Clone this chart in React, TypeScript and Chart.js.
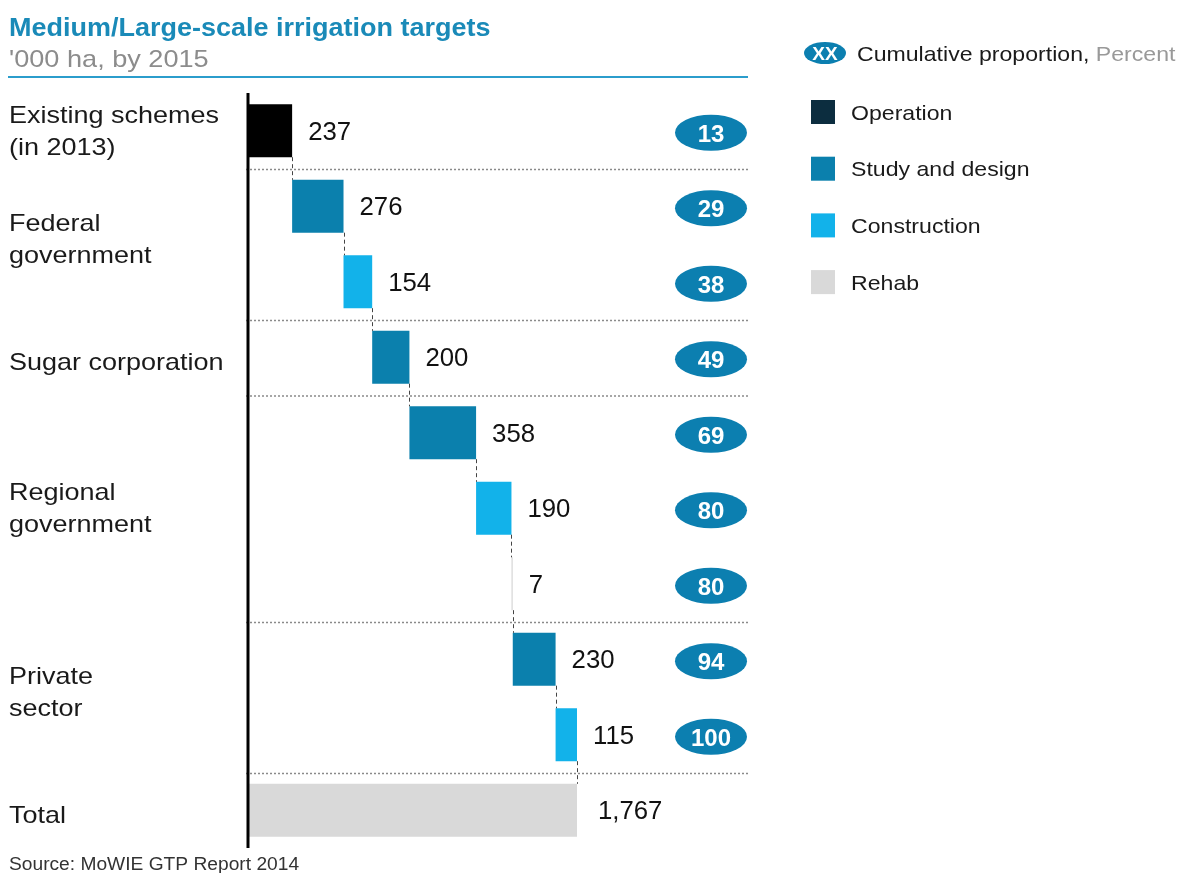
import React, { useEffect, useRef } from "react";
import { Chart, registerables } from "chart.js";

Chart.register(...registerables);

const title = "Medium/Large-scale irrigation targets";
const subtitle = "'000 ha, by 2015";
const source = "Source: MoWIE GTP Report 2014";

const rowIds = ["r0", "r1", "r2", "r3", "r4", "r5", "r6", "r7", "r8", "total"];
const values = [237, 276, 154, 200, 358, 190, 7, 230, 115, 1767];
const valueLabels = ["237", "276", "154", "200", "358", "190", "7", "230", "115", "1,767"];
const phases = [
  "Operation",
  "Study and design",
  "Construction",
  "Study and design",
  "Study and design",
  "Construction",
  "Rehab",
  "Study and design",
  "Construction",
  "Total",
];
const cumulativePct = [13, 29, 38, 49, 69, 80, 80, 94, 100];

const groupLabels = [
  ["Existing schemes", "(in 2013)"],
  ["Federal", "government"],
  ["Sugar corporation"],
  ["Regional", "government"],
  ["Private", "sector"],
  ["Total"],
];
const groupRows = [[0], [1, 2], [3], [4, 5, 6], [7, 8], [9]];
const separatorsAfterRow = [0, 2, 3, 6, 8];

const legendItems = ["Operation", "Study and design", "Construction", "Rehab"];
const phaseColors: Record<string, string> = {
  Operation: "#000000",
  "Study and design": "#0b80ad",
  Construction: "#12b2ea",
  Rehab: "#d9d9d9",
  Total: "#d9d9d9",
};
const legendColors: Record<string, string> = {
  Operation: "#0c2d3f",
  "Study and design": "#0b80ad",
  Construction: "#12b2ea",
  Rehab: "#d9d9d9",
};

const FONT = "'Liberation Sans', Arial, sans-serif";
const X_MAX = 2000;

function txt(
  ctx: CanvasRenderingContext2D,
  s: string,
  x: number,
  y: number,
  font: string,
  color: string,
  sx = 1,
  align: CanvasTextAlign = "left",
  baseline: CanvasTextBaseline = "alphabetic"
) {
  ctx.save();
  ctx.font = font;
  ctx.fillStyle = color;
  ctx.textAlign = align;
  ctx.textBaseline = baseline;
  ctx.translate(x, y);
  ctx.scale(sx, 1);
  ctx.fillText(s, 0, 0);
  ctx.restore();
}

export default function App() {
  const ref = useRef<HTMLCanvasElement | null>(null);

  useEffect(() => {
    if (!ref.current) return;
    let run = 0;
    const ranges = values.map((v, i) => {
      if (phases[i] === "Total") return [0, v];
      const r = [run, run + v];
      run += v;
      return r;
    });

    const overlay = {
      id: "overlay",
      beforeDatasetsDraw(chart: any) {
        const ctx = chart.ctx;
        const ca = chart.chartArea;
        const y = chart.scales.y;
        ctx.save();
        ctx.strokeStyle = "#8a8a8a";
        ctx.lineWidth = 1.5;
        ctx.setLineDash([2, 2]);
        separatorsAfterRow.forEach((r) => {
          const yy = (y.getPixelForValue(r) + y.getPixelForValue(r + 1)) / 2 + 1;
          ctx.beginPath();
          ctx.moveTo(ca.left - 2, yy);
          ctx.lineTo(748, yy);
          ctx.stroke();
        });
        ctx.restore();
      },
      afterDatasetsDraw(chart: any) {
        const ctx = chart.ctx;
        const ca = chart.chartArea;
        const x = chart.scales.x;
        const y = chart.scales.y;
        const meta = chart.getDatasetMeta(0);
        ctx.save();

        // connectors
        ctx.strokeStyle = "#444";
        ctx.lineWidth = 1;
        ctx.setLineDash([4, 3]);
        for (let i = 0; i < values.length - 1; i++) {
          const a = meta.data[i];
          const b = meta.data[i + 1];
          const xx = Math.round(x.getPixelForValue(ranges[i][1])) + 0.5;
          ctx.beginPath();
          ctx.moveTo(xx, a.y + a.height / 2);
          ctx.lineTo(xx, b.y - b.height / 2);
          ctx.stroke();
        }
        ctx.setLineDash([]);

        // axis line
        ctx.strokeStyle = "#000";
        ctx.lineWidth = 3;
        ctx.beginPath();
        ctx.moveTo(ca.left, ca.top);
        ctx.lineTo(ca.left, ca.bottom);
        ctx.stroke();

        // value labels
        values.forEach((_, i) => {
          const off = phases[i] === "Total" ? 21 : 16;
          const xx = x.getPixelForValue(ranges[i][1]) + off;
          txt(ctx, valueLabels[i], xx, y.getPixelForValue(i) + 9, `25px ${FONT}`, "#111", 1.03);
        });

        // group labels
        groupLabels.forEach((lines, g) => {
          const rows = groupRows[g];
          const c =
            (y.getPixelForValue(rows[0]) + y.getPixelForValue(rows[rows.length - 1])) / 2 +
            (rows.length === 2 ? -5 : 0) +
            (lines.length === 1 ? 4 : -1);
          const lh = 32;
          lines.forEach((t, k) => {
            txt(ctx, t, 9, c + (k - (lines.length - 1) / 2) * lh + 9, `24px ${FONT}`, "#1a1a1a", 1.125);
          });
        });

        // badges
        cumulativePct.forEach((p, i) => {
          const cy = y.getPixelForValue(i) + 2;
          ctx.fillStyle = "#0c7fb0";
          ctx.beginPath();
          ctx.ellipse(711, cy, 36, 18, 0, 0, Math.PI * 2);
          ctx.fill();
          txt(ctx, String(p), 711, cy + 9, `bold 24px ${FONT}`, "#fff", 1.0, "center");
        });

        // title
        txt(ctx, title, 9, 36, `bold 25px ${FONT}`, "#1a8ab8", 1.08);
        txt(ctx, subtitle, 9, 67, `24px ${FONT}`, "#8c8c8c", 1.13);
        ctx.strokeStyle = "#2b9dcc";
        ctx.lineWidth = 2;
        ctx.beginPath();
        ctx.moveTo(8, 77);
        ctx.lineTo(748, 77);
        ctx.stroke();

        // legend
        ctx.fillStyle = "#0c7fb0";
        ctx.beginPath();
        ctx.ellipse(825, 53, 21, 11, 0, 0, Math.PI * 2);
        ctx.fill();
        txt(ctx, "XX", 825, 60, `bold 19px ${FONT}`, "#fff", 1.0, "center");
        const lead = "Cumulative proportion, ";
        const lf = `21px ${FONT}`;
        const lsx = 1.1;
        txt(ctx, lead, 857, 61, lf, "#1a1a1a", lsx);
        ctx.font = lf;
        const w = ctx.measureText(lead).width * lsx;
        txt(ctx, "Percent", 857 + w, 61, lf, "#999", lsx);
        legendItems.forEach((name, k) => {
          const cy = 112 + k * 56.7;
          ctx.fillStyle = legendColors[name];
          ctx.fillRect(811, cy - 12, 24, 24);
          txt(ctx, name, 851, cy + 7.5, lf, "#1a1a1a", lsx);
        });

        // source
        txt(ctx, source, 9, 870, `18px ${FONT}`, "#333", 1.066);

        ctx.restore();
      },
    };

    const chart = new Chart(ref.current, {
      type: "bar",
      data: {
        labels: rowIds,
        datasets: [
          {
            data: ranges as any,
            backgroundColor: phases.map((p) => phaseColors[p]),
            borderWidth: 0,
            categoryPercentage: 1,
            barPercentage: 0.7,
          },
        ],
      },
      options: {
        indexAxis: "y",
        animation: false,
        responsive: true,
        maintainAspectRatio: false,
        layout: {
          padding: {
            left: 248,
            top: 93,
            bottom: 25,
            right: 1186 - (248 + (329 * X_MAX) / 1767),
          },
        },
        scales: {
          x: { display: false, min: 0, max: X_MAX },
          y: { display: false },
        },
        plugins: {
          legend: { display: false },
          tooltip: { enabled: false },
        },
      },
      plugins: [overlay],
    });
    return () => chart.destroy();
  }, []);

  return (
    <div style={{ position: "absolute", left: 0, top: 0, width: 1186, height: 873, background: "#fff" }}>
      <canvas ref={ref} />
    </div>
  );
}
